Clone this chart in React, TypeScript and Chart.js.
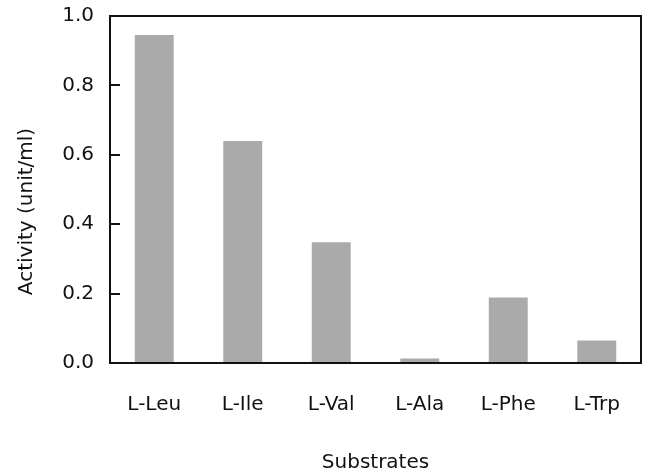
import React, { useEffect, useRef } from "react";
import { Chart, registerables } from "chart.js";

Chart.register(...registerables);

const categories = ["L-Leu", "L-Ile", "L-Val", "L-Ala", "L-Phe", "L-Trp"];
const activity = [0.945, 0.64, 0.348, 0.013, 0.189, 0.065];
const yTicks = [0, 0.2, 0.4, 0.6, 0.8, 1.0];
const yTitle = "Activity (unit/ml)";
const xTitle = "Substrates";

const FONT = "'DejaVu Sans', sans-serif";
const TEXT = "#111";

const framePlugin = {
  id: "frame",
  afterDraw(chart: any) {
    const { ctx, chartArea } = chart;
    const y = chart.scales.y;
    ctx.save();
    ctx.strokeStyle = "#111";
    ctx.lineWidth = 2;
    ctx.strokeRect(chartArea.left, chartArea.top, chartArea.right - chartArea.left, chartArea.bottom - chartArea.top);
    for (const v of yTicks) {
      if (v === 0 || v === 1) continue;
      const py = Math.round(y.getPixelForValue(v));
      ctx.beginPath();
      ctx.moveTo(chartArea.left, py);
      ctx.lineTo(chartArea.left + 10, py);
      ctx.stroke();
    }
    // y-axis title (slightly below the plot's centre, as in the reference)
    ctx.translate(27, (chartArea.top + chartArea.bottom) / 2 + 22);
    ctx.rotate(-Math.PI / 2);
    ctx.fillStyle = TEXT;
    ctx.font = `20px ${FONT}`;
    ctx.textAlign = "center";
    ctx.textBaseline = "middle";
    ctx.fillText(yTitle, 0, 0);
    ctx.restore();
  },
};

export default function App() {
  const ref = useRef<HTMLCanvasElement>(null);
  useEffect(() => {
    if (!ref.current) return;
    const chart = new Chart(ref.current, {
      type: "bar",
      data: {
        labels: categories,
        datasets: [
          {
            data: activity,
            backgroundColor: "#aaaaaa",
            borderWidth: 0,
            categoryPercentage: 1,
            barPercentage: 0.44,
          },
        ],
      },
      options: {
        animation: false,
        responsive: false,
        maintainAspectRatio: false,
        layout: { padding: { top: 16, right: 7, left: 0, bottom: 0 } },
        plugins: { legend: { display: false }, tooltip: { enabled: false } },
        scales: {
          x: {
            grid: { display: false, drawTicks: false },
            border: { display: false },
            afterFit: (s: any) => {
              s.height = 112;
              s.paddingLeft = 0;
              s.paddingRight = 0;
              s.paddingTop = 0;
              s.paddingBottom = 0;
            },
            ticks: { color: TEXT, font: { family: FONT, size: 20 }, padding: 30, maxRotation: 0 },
            title: {
              display: true,
              text: xTitle,
              color: TEXT,
              font: { family: FONT, size: 20 },
              padding: { top: 34, bottom: 0 },
            },
          },
          y: {
            min: 0,
            max: 1,
            grid: { display: false, drawTicks: false },
            border: { display: false },
            afterBuildTicks: (scale: any) => {
              scale.ticks = yTicks.map((v) => ({ value: v }));
            },
            afterFit: (s: any) => {
              s.width = 110;
              s.paddingLeft = 0;
              s.paddingRight = 0;
              s.paddingTop = 0;
              s.paddingBottom = 0;
            },
            ticks: {
              color: TEXT,
              font: { family: FONT, size: 20 },
              padding: 16,
              callback: (v: any) => Number(v).toFixed(1),
            },
            title: { display: false },
          },
        },
      },
      plugins: [framePlugin],
    });
    return () => chart.destroy();
  }, []);
  return (
    <div style={{ position: "fixed", left: 0, top: 0, width: 648, height: 475, background: "#fff" }}>
      <canvas ref={ref} width={648} height={475} style={{ width: 648, height: 475 }} />
    </div>
  );
}
